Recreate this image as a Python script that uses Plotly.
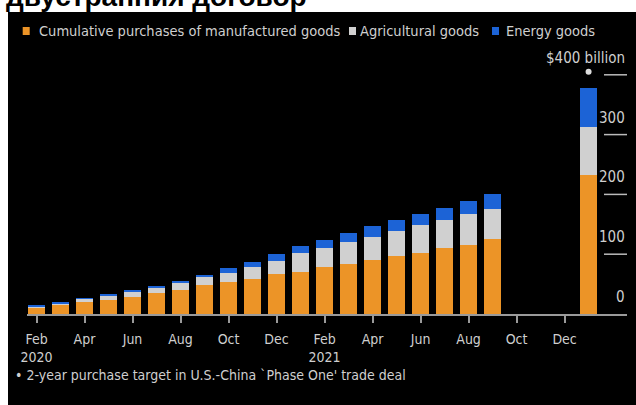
import plotly.graph_objects as go

# ---- data ----
months = ["2020-02", "2020-03", "2020-04", "2020-05", "2020-06", "2020-07", "2020-08",
          "2020-09", "2020-10", "2020-11", "2020-12", "2021-01", "2021-02", "2021-03",
          "2021-04", "2021-05", "2021-06", "2021-07", "2021-08", "2021-09", "2021-10",
          "2021-11", "2021-12", "2022-01"]
manufactured = [9.5, 14.5, 19.5, 23.5, 29.0, 35.5, 40.1, 48.0, 54.0, 58.5, 66.4, 70.7,
                78.1, 83.6, 90.3, 97.0, 102.5, 109.9, 115.4, 125.4, None, None, None, 232.4]
agricultural = [3.4, 3.8, 5.8, 8.0, 9.3, 9.5, 11.2, 13.4, 15.1, 19.6, 22.7, 31.8,
                31.8, 37.3, 39.0, 41.8, 46.3, 47.3, 51.8, 51.0, None, None, None, 79.8]
energy = [0.5, 0.6, 1.0, 1.4, 1.8, 2.3, 4.4, 4.6, 7.3, 8.4, 11.2, 11.4,
          13.8, 15.1, 17.9, 18.8, 18.9, 20.6, 21.8, 23.9, None, None, None, 65.2]
target_month = ["2022-01"]
target_marker = [405]

tick_months = ["2020-02", "2020-04", "2020-06", "2020-08", "2020-10", "2020-12",
               "2021-02", "2021-04", "2021-06", "2021-08", "2021-10", "2021-12"]
tick_text = ["Feb<br>2020", "Apr", "Jun", "Aug", "Oct", "Dec",
             "Feb<br>2021", "Apr", "Jun", "Aug", "Oct", "Dec"]
y_levels = [0, 100, 200, 300, 400]
y_labels = ["0", "100", "200", "300", "$400 billion"]

series_names = ["Cumulative purchases of manufactured goods", "Agricultural goods", "Energy goods"]
colors = ["#EC9427", "#D0D0D0", "#1C63D6"]

FONT = "DejaVu Sans Condensed, Liberation Sans Narrow, sans-serif"
TXT = "#CFCFCF"

fig = go.Figure()
for name, vals, col in zip(series_names, [manufactured, agricultural, energy], colors):
    fig.add_trace(go.Bar(x=months, y=vals, name=name, showlegend=False,
                         marker=dict(color=col, line=dict(width=0))))

fig.add_trace(go.Scatter(x=target_month, y=target_marker, mode="markers",
                         marker=dict(color="#DDDDDD", size=6), showlegend=False, hoverinfo="skip"))

W, H = 636, 405
L, R, T, B = 27, 9, 60, 91
pw, ph = W - L - R, H - T - B

def px_x(p):
    return (p - L) / pw

def px_y(p):
    return (H - B - p) / ph

shapes = [dict(type="rect", xref="paper", yref="paper", x0=px_x(8), x1=px_x(640),
               y0=px_y(410), y1=px_y(12), fillcolor="#000000", line=dict(width=0), layer="below")]
for lv in y_levels[1:]:
    shapes.append(dict(type="line", xref="paper", yref="y", x0=px_x(604), x1=1.0, y0=lv, y1=lv,
                       line=dict(color="#BBBBBB", width=1.5)))

annotations = []
for lv, lab in zip(y_levels, y_labels):
    annotations.append(dict(xref="paper", yref="y", x=1.0, y=lv, text=lab, showarrow=False,
                            xanchor="right", yanchor="middle", yshift=17,
                            font=dict(family=FONT, size=15, color=TXT)))

# manual legend (single row, as in the reference)
legend_sq_x = [22.7, 349, 492]
legend_txt_x = [36.5, 358, 504]
for name, col, sx, tx in zip(series_names, colors, legend_sq_x, legend_txt_x):
    shapes.append(dict(type="rect", xref="paper", yref="paper", x0=px_x(sx), x1=px_x(sx + 7),
                       y0=px_y(35), y1=px_y(27), fillcolor=col, line=dict(width=0)))
    annotations.append(dict(xref="paper", yref="paper", x=px_x(tx), y=px_y(31), text=name,
                            showarrow=False, xanchor="left", yanchor="middle",
                            font=dict(family=FONT, size=14.5, color=TXT)))

annotations.append(dict(xref="paper", yref="paper", x=px_x(13), y=px_y(375),
                        text="• 2-year purchase target in U.S.-China `Phase One' trade deal",
                        showarrow=False, xanchor="left", yanchor="middle",
                        font=dict(family=FONT, size=14, color=TXT)))
annotations.append(dict(xref="paper", yref="paper", x=px_x(4), y=px_y(14),
                        text="<b>двустранния договор</b>", showarrow=False,
                        xanchor="left", yanchor="bottom",
                        font=dict(family="Liberation Sans, Arial, sans-serif", size=28, color="#000000")))

fig.update_layout(
    width=W, height=H,
    margin=dict(l=L, r=R, t=T, b=B, pad=0),
    paper_bgcolor="#FFFFFF", plot_bgcolor="rgba(0,0,0,0)",
    barmode="stack", bargap=0.29,
    shapes=shapes, annotations=annotations,
    showlegend=False,
    xaxis=dict(type="category", categoryorder="array", categoryarray=months,
               range=[-0.396, 24.6], showline=True, linecolor="#9A9A9A", linewidth=2,
               ticks="outside", ticklen=7, tickcolor="#9A9A9A", tickwidth=1.5,
               ticklabelstandoff=4,
               tickvals=tick_months, ticktext=tick_text, showgrid=False, zeroline=False,
               tickfont=dict(family=FONT, size=14, color=TXT)),
    yaxis=dict(range=[0, ph / 0.598], showticklabels=False, showgrid=False, zeroline=False,
               showline=False, ticks=""),
)

fig.write_html("out.html")
